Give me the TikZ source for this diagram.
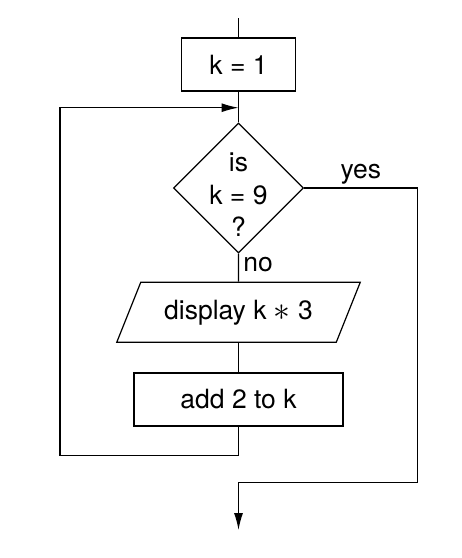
\documentclass[tikz,border=0pt]{standalone}
\usepackage{fontspec}
\setmainfont{TeX Gyre Heros}
\usetikzlibrary{shapes.geometric, arrows.meta}

\begin{document}
\begin{tikzpicture}[x=1pt, y=-1pt]

\tikzset{every node/.style = {font=\fontsize{26.5}{32.5}\selectfont}}
\tikzset{process/.style = {shape=rectangle,draw,line width=1.2pt,minimum height=53pt}}
\tikzset{decision/.style = {shape=diamond,draw,line width=1.2pt,minimum width=130pt,minimum height=130pt,inner sep=0pt}}
\tikzset{io/.style = {shape=trapezium,draw,line width=1.2pt,trapezium left angle=59,trapezium right angle=121,
  trapezium stretches=true,minimum width=244pt,minimum height=60pt}}
\tikzset{edge/.style = {line width=1.2pt,> = {Latex[length=17pt,width=9pt]}}}

\useasboundingbox (0,0) rectangle (462,558);

%blocks
\node[process, minimum width=114pt] (init) at (238.5,64.5) {k = 1};
\node[decision, label={[align=center,yshift=-7pt]center:{is\\k = 9\\?}}] (test) at (238.5,188) {};
\node[io] (show) at (238.5,312.3) {display k \raisebox{-1pt}{\scalebox{1.35}{$\ast$}} 3};
\node[process, minimum width=209pt] (add) at (238.5,399.4) {add 2 to k};

%corners
\coordinate (start) at (238.5,18);
\coordinate (merge) at (238.5,107.7);
\coordinate (back) at (60,455.7);
\coordinate (yesdown) at (417.7,482.7);
\coordinate (stop) at (238.5,530);

%edges
\draw[edge] (start) -- (init);
\draw[edge] (init) -- (test);
\draw[edge] (test) -- node[pos=0, below right, xshift=1pt] {no} (show);
\draw[edge] (show) -- (add);
\draw[edge, ->] (add) |- (back) |- (merge);
\draw[edge, ->] (test.east) -| node[pos=0.25, above] {yes} (yesdown) -| (stop);

\end{tikzpicture}
\end{document}
